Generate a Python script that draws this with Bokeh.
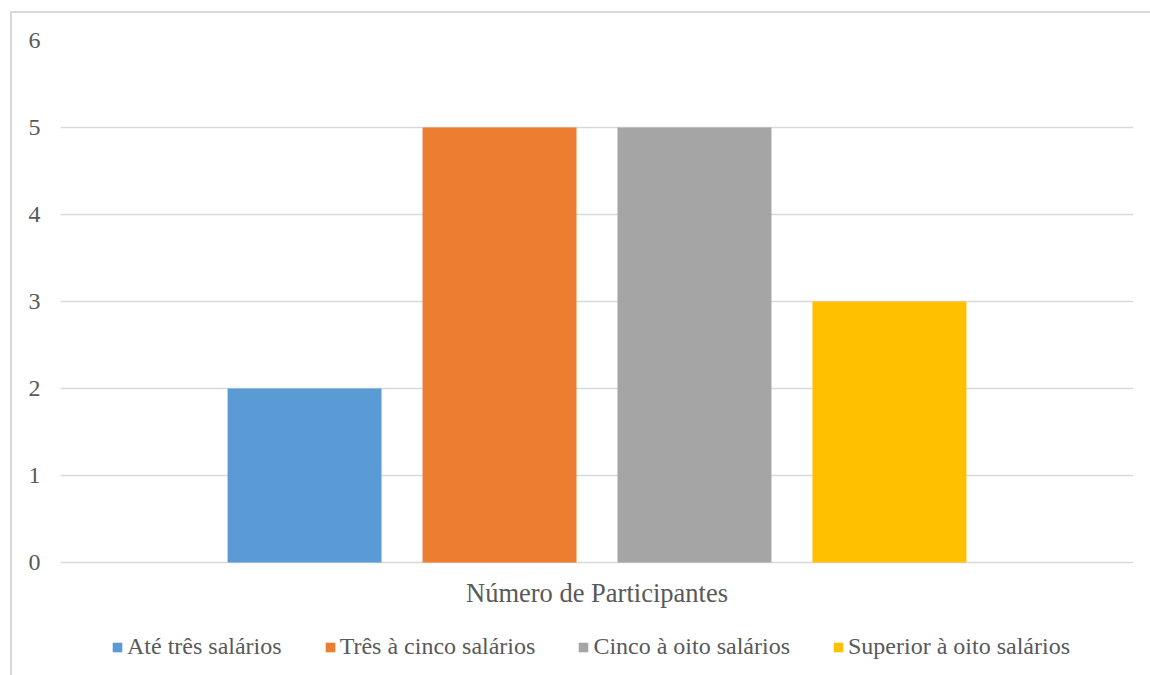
from bokeh.plotting import figure
from bokeh.models import FactorRange, Range1d, ColumnDataSource, FixedTicker, Legend
from bokeh.core.properties import value
from bokeh.transform import dodge
from bokeh.embed import file_html
from bokeh.resources import INLINE

categories = ["Número de Participantes"]
series = ["Até três salários", "Três à cinco salários", "Cinco à oito salários", "Superior à oito salários"]
values = [2, 5, 5, 3]
colors = ["#5B9BD5", "#ED7D31", "#A5A5A5", "#FFC000"]
y_ticks = [0, 1, 2, 3, 4, 5, 6]

FONT = "Liberation Serif"
TXT = "#595959"
GRID = "#D9D9D9"

# frame extends to the bottom of the chart so the legend and category label are not clipped
p = figure(frame_width=1073, frame_height=635, x_range=FactorRange(*categories, range_padding=0),
           y_range=Range1d(-1.2989, 6), output_backend="svg", toolbar_location=None,
           x_axis_location=None,
           min_border_left=48, min_border_right=17, min_border_top=27, min_border_bottom=0)
p.margin = (11, 0, 0, 10)
p.styles = {"border-top": "2px solid #D9D9D9", "border-left": "2px solid #D9D9D9"}
p.outline_line_color = None

bar_w = 0.1435
step = 0.1817
n = len(series)
renderers = []
for i, (name, val, col) in enumerate(zip(series, values, colors)):
    src = ColumnDataSource(dict(x=categories, top=[val]))
    off = (i - (n - 1) / 2) * step
    r = p.vbar(x=dodge("x", off, range=p.x_range), top="top", bottom=0, width=bar_w, source=src,
               fill_color=col, line_color=None)
    renderers.append((name, [r]))

# category label under the baseline
cat_src = ColumnDataSource(dict(x=categories, y=[-0.356], text=categories))
p.text(x="x", y="y", text="text", source=cat_src, text_font=value(FONT),
       text_font_size="26.5px", text_color=TXT, text_align="center", text_baseline="middle")

p.yaxis.ticker = FixedTicker(ticks=y_ticks)
p.yaxis.axis_line_color = None
p.yaxis.major_tick_line_color = None
p.yaxis.minor_tick_line_color = None
p.yaxis.major_label_text_font = FONT
p.yaxis.major_label_text_font_size = "24px"
p.yaxis.major_label_text_color = TXT
p.yaxis.major_label_standoff = 14

p.xgrid.grid_line_color = None
p.ygrid.ticker = FixedTicker(ticks=y_ticks)
p.ygrid.grid_line_color = GRID
p.ygrid.grid_line_width = 1.5

legend = Legend(items=renderers, orientation="horizontal", location=(51, 15),
                glyph_width=12, glyph_height=12, label_standoff=4, spacing=42,
                label_text_font=FONT, label_text_font_size="24px", label_text_color=TXT,
                border_line_color=None, background_fill_alpha=0,
                padding=0, margin=0)
p.add_layout(legend, "center")

open("out.html", "w").write(file_html(p, INLINE))
